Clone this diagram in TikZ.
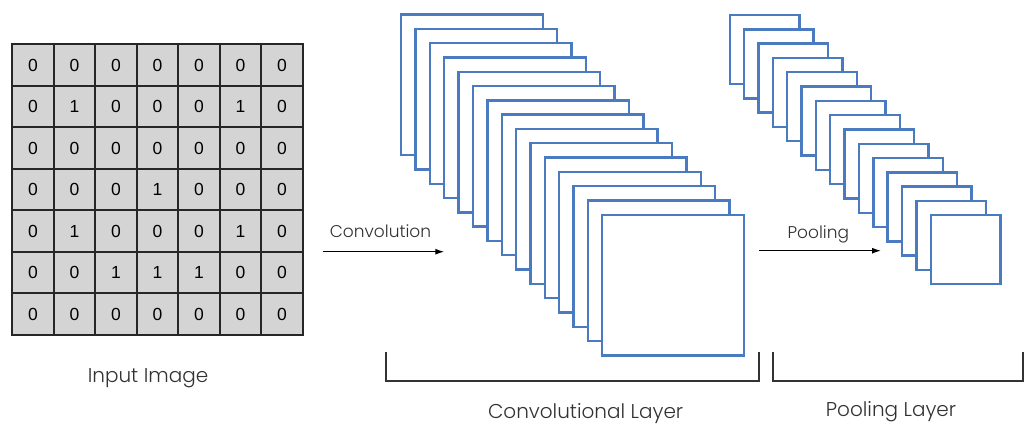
\documentclass[tikz,border=0pt]{standalone}
\usepackage{fontspec}
\setmainfont{Poppins}[UprightFont=* Light]
\newfontfamily\digitfont{Liberation Sans}
\usetikzlibrary{arrows.meta,matrix}

\definecolor{frameblue}{RGB}{74,123,192}
\definecolor{cellgray}{RGB}{212,212,212}
\definecolor{textgray}{RGB}{50,50,50}

\begin{document}
\begin{tikzpicture}[x=1pt, y=-1pt,
  cell node/.style={draw=black!85, fill=cellgray, line width=1.6pt, minimum size=41.5pt, inner sep=0pt, font=\digitfont\fontsize{17.5}{17.5}\selectfont},
  frame node/.style={draw=frameblue, fill=white, line width=2.4pt, inner sep=0pt},
  label node/.style={text=textgray, anchor=base, inner sep=0pt},
  link/.style={-{Latex[length=9pt,width=6pt]}, line width=1.3pt},
  bracket/.style={draw=black!80, line width=2pt}]
\useasboundingbox (0,0) rectangle (1024,432);

% input image
\matrix (img) [matrix of nodes, nodes={cell node}, column sep=-1.6pt, row sep=-1.6pt] at (157.5,189.5) {
0 & 0 & 0 & 0 & 0 & 0 & 0 \\
0 & 1 & 0 & 0 & 0 & 1 & 0 \\
0 & 0 & 0 & 0 & 0 & 0 & 0 \\
0 & 0 & 0 & 1 & 0 & 0 & 0 \\
0 & 1 & 0 & 0 & 0 & 1 & 0 \\
0 & 0 & 1 & 1 & 1 & 0 & 0 \\
0 & 0 & 0 & 0 & 0 & 0 & 0 \\
};
\node[label node, font=\fontsize{20}{20}\selectfont] (imglabel) at (148,382.3) {Input Image};

% feature maps
\foreach \i in {1,...,15} {
  \node[frame node, minimum width=141.6pt, minimum height=140.6pt] (conv\i) at ({472+14.36*(\i-1)},{84.8+14.3*(\i-1)}) {};
}
\foreach \i in {1,...,15} {
  \node[frame node, minimum width=69.6pt, minimum height=69pt] (pool\i) at ({764.5+14.36*(\i-1)},{49.5+14.3*(\i-1)}) {};
}

% arrows
\coordinate (convfrom) at (322.7,251.7);
\coordinate (convto) at (444.3,251.7);
\coordinate (poolfrom) at (759.3,250.7);
\coordinate (poolto) at (881,250.7);
\draw[link] (convfrom) -- (convto);
\draw[link] (poolfrom) -- (poolto);
\node[label node, font=\fontsize{17}{17}\selectfont] (convlabel) at (380.5,237.3) {Convolution};
\node[label node, font=\fontsize{17}{17}\selectfont] (poollabel) at (818.3,238) {Pooling};

% brackets
\coordinate (convl) at (385.7,352);
\coordinate (convr) at (759.3,352);
\coordinate (pooll) at (772.7,352);
\coordinate (poolr) at (1022.7,352);
\draw[bracket] (convl) -- ++(0,29) -| (convr);
\draw[bracket] (pooll) -- ++(0,29) -| (poolr);
\node[label node, font=\fontsize{20}{20}\selectfont] (convlayer) at (585.6,418) {Convolutional Layer};
\node[label node, font=\fontsize{20}{20}\selectfont] (poollayer) at (891,416) {Pooling Layer};
\end{tikzpicture}
\end{document}
